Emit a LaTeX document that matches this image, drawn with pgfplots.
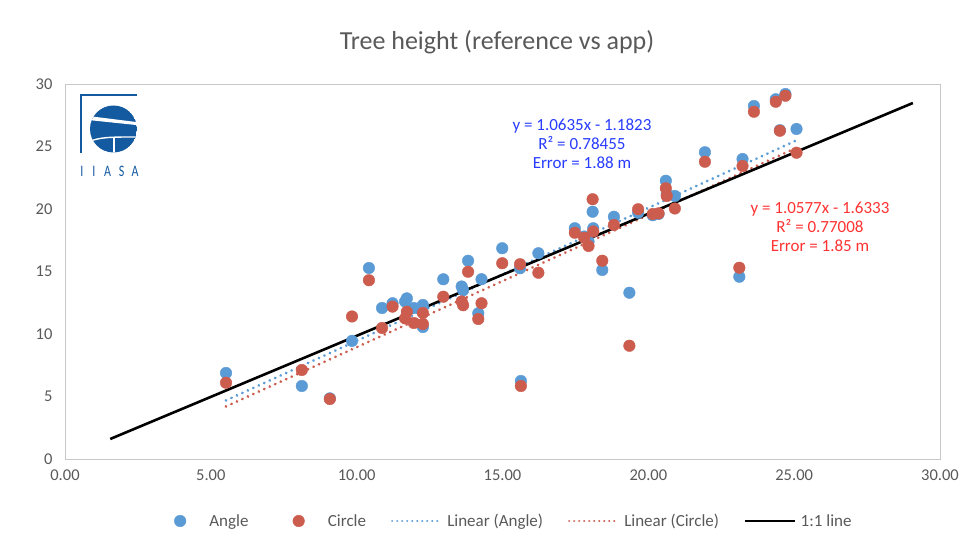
\documentclass[border=0pt]{standalone}
\usepackage{fontspec}
\setmainfont{Carlito}
\usepackage{pgfplots}
\usepackage{pgfplotstable}
\pgfplotsset{compat=1.18}
\definecolor{angleblue}{RGB}{91,155,213}
\definecolor{circlered}{RGB}{204,92,78}
\definecolor{txtgray}{RGB}{89,89,89}
\definecolor{axgray}{RGB}{200,200,200}
\definecolor{eqblue}{RGB}{40,60,255}
\definecolor{eqred}{RGB}{255,50,50}
\definecolor{logoblue}{RGB}{20,90,160}

\pgfplotsset{
  markleg/.style={legend image code/.code={\path (0pt,0pt) (50pt,0pt); \draw[##1] plot coordinates {(25pt,0pt)};}},
  dotleg/.style={legend image code/.code={\draw[##1, line width=2.2pt, dash pattern=on 0.01pt off 5pt] (0pt,0pt) -- (50pt,0pt);}},
  lineleg/.style={legend image code/.code={\draw[##1] (0pt,0pt) -- (50pt,0pt);}},
}

\pgfplotstableread{
x      angle  circle
5.52   6.88   6.10
8.12   5.84   7.12
9.08   4.85   4.80
9.84   9.45   11.40
10.42  15.28  14.30
10.87  12.08  10.48
11.23  12.46  12.19
11.66  12.60  11.25
11.72  12.85  11.78
11.96  12.08  10.88
12.27  12.32  11.68
12.27  10.56  10.80
12.97  14.38  12.98
13.60  13.80  12.60
13.65  13.50  12.30
13.82  15.86  14.98
14.17  11.66  11.20
14.28  14.38  12.46
14.99  16.86  15.66
15.60  15.26  15.58
15.63  6.24   5.84
16.23  16.46  14.90
17.48  18.46  18.10
17.80  17.80  17.70
17.95  17.40  17.04
18.09  19.78  20.78
18.11  18.46  18.20
18.42  15.12  15.86
18.82  19.38  18.72
19.35  13.30  9.06
19.65  19.70  19.98
20.15  19.50  19.60
20.35  19.60  19.65
20.60  22.26  21.66
20.63  21.20  21.04
20.91  21.04  20.04
21.94  24.54  23.78
23.12  14.58  15.30
23.23  24.00  23.44
23.62  28.24  27.78
24.37  28.78  28.58
24.51  26.30  26.26
24.70  29.20  29.06
25.08  26.40  24.50
}\datatable

\begin{document}
\begin{tikzpicture}[x=1pt,y=1pt]
\path[use as bounding box] (0,0) rectangle (975,553);
\begin{axis}[
  scale only axis, width=875pt, height=375pt,
  at={(65pt,94pt)}, anchor=south west,
  xmin=0, xmax=30, ymin=0, ymax=30,
  xtick={0,5,...,30}, ytick={0,5,...,30},
  axis line style={axgray, line width=0.8pt},
  major tick length=0pt,
  tick label style={font=\fontsize{16.5}{18}\selectfont, text=txtgray},
  /pgf/number format/assume math mode=true,
  x tick label style={/pgf/number format/fixed, /pgf/number format/fixed zerofill, /pgf/number format/precision=2, yshift=-7pt},
  y tick label style={xshift=-9pt},
  legend style={at={(0.502,-0.1653)}, anchor=center, draw=none, fill=none,
    font=\fontsize{17}{19}\selectfont, text=txtgray,
    nodes={inner sep=2pt},
    /tikz/every odd column/.append style={column sep=2pt},
    /tikz/every even column/.append style={column sep=23pt}},
  legend columns=5,
]
\addplot[only marks, mark=*, mark size=5.8pt, color=angleblue, markleg]
  table[x=x, y=angle]{\datatable};
\addlegendentry{Angle}
\addplot[only marks, mark=*, mark size=5.8pt, color=circlered, markleg]
  table[x=x, y=circle]{\datatable};
\addlegendentry{Circle}
\addplot[angleblue, line width=3pt, line cap=round, dash pattern=on 0.01pt off 6pt, dotleg]
  coordinates {(5.52,4.688) (25.08,25.490)};
\addlegendentry{Linear (Angle)}
\addplot[circlered, line width=3pt, line cap=round, dash pattern=on 0.01pt off 6pt, dotleg]
  coordinates {(5.52,4.205) (25.08,24.894)};
\addlegendentry{Linear (Circle)}
\addplot[black, line width=2.6pt, lineleg]
  coordinates {(1.55,1.60) (29.07,28.48)};
\addlegendentry{1:1 line}
\end{axis}

% title
\node[font=\fontsize{26}{30}\selectfont, text=txtgray] at (497,511) {Tree height (reference vs app)};

% equations
\node[font=\fontsize{17}{19}\selectfont, text=eqblue, align=center] at (582,409)
  {y = 1.0635x - 1.1823\\R² = 0.78455\\Error = 1.88 m};
\node[font=\fontsize{17}{19}\selectfont, text=eqred, align=center] at (820,326)
  {y = 1.0577x - 1.6333\\R² = 0.77008\\Error = 1.85 m};

% IIASA logo
\draw[logoblue, line width=2pt] (81,400) -- (81,458) -- (137,458);
\begin{scope}
\clip (113.5,424) circle (23.5);
\fill[logoblue] (113.5,424) circle (23.5);
\fill[white] (88,437) -- (136,431) -- (136,428) -- (88,433) -- cycle;
\draw[white, line width=1.4pt] (88,411) .. controls (100,416) and (110,416) .. (137,416);
\draw[white, line width=1.4pt] (114,416) -- (114,398);
\end{scope}
\foreach \xx/\ll in {82/I, 94/I, 107.7/A, 121.7/S, 135/A}
  \node[font=\fontsize{16}{16}\selectfont, text=logoblue, xscale=0.75, inner sep=0pt] at (\xx,381.5) {\ll};
\end{tikzpicture}
\end{document}
